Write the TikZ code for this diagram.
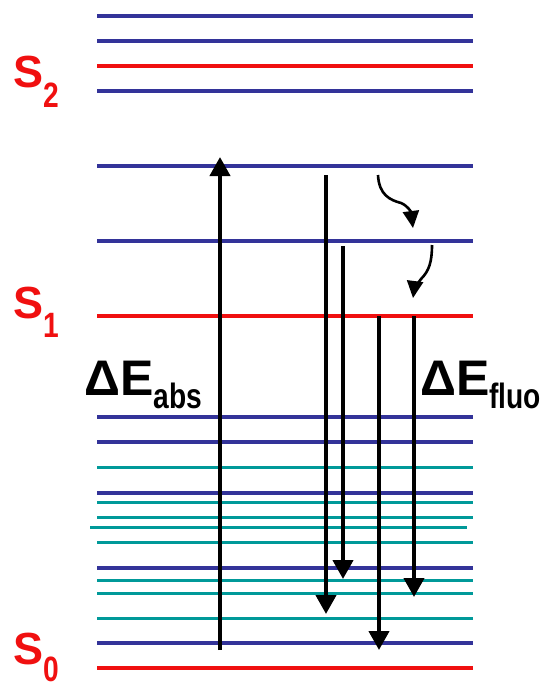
\documentclass[tikz,border=0pt]{standalone}
\usepackage{fontspec}
\setmainfont{Liberation Sans}
\usepackage{tikz}
\usetikzlibrary{arrows.meta,positioning}
\definecolor{elred}{RGB}{240,16,16}
\definecolor{vibblue}{RGB}{51,51,153}
\definecolor{rotteal}{RGB}{0,153,153}
\newcommand{\bigtxt}{\fontsize{45}{45}\selectfont\bfseries}
\newcommand{\deltxt}{\fontsize{50}{50}\selectfont\bfseries}
\newcommand{\subtxt}[2]{\raisebox{-#1}{\scalebox{0.88}[1.1]{\fontsize{32}{32}\selectfont\bfseries #2}}}
\begin{document}
\begin{tikzpicture}[x=1pt,y=-1pt,
          elec/.style={draw=elred,line width=4.6pt},
          vib/.style={draw=vibblue,line width=4pt},
          rot/.style={draw=rotteal,line width=3pt},
          trans/.style={draw=black,line width=4.2pt,
                        -{Triangle[width=20pt,length=19pt]}},
          relax/.style={draw=black,line width=2.6pt,
                        -{Triangle[width=16pt,length=17pt]}},
          lvl/.style={text=elred,anchor=base west,inner sep=0pt},
          nrg/.style={text=black,anchor=base west,inner sep=0pt}]
        \useasboundingbox (0,0) rectangle (544,689);
        % energy levels
        \foreach \y in {16,41,91,166,241,417,442,493,568,643}
          \draw[vib] (97,\y) -- (473,\y);
        \foreach \y in {467,502,517,542,580,593,618}
          \draw[rot] (97,\y) -- (473,\y);
        \draw[rot] (90,527) -- (467,527);
        \foreach \y in {66,316,668}
          \draw[elec] (97,\y) -- (473,\y);
        % state labels
        \node[lvl] (s2) at (13,87) {\bigtxt S\subtxt{20pt}{2}};
        \node[lvl] (s1) at (13,318) {\bigtxt S\subtxt{19pt}{1}};
        \node[lvl] (s0) at (13,664) {\bigtxt S\subtxt{17pt}{0}};
        \node[nrg] (eabs) at (84,395) {\deltxt ΔE\subtxt{13pt}{abs}};
        \node[nrg] (efluo) at (420,395) {\deltxt ΔE\subtxt{13pt}{fluo}};
        % absorption and emission
        \coordinate (absfrom) at (220,650);
        \coordinate (absto) at (220,157);
        \coordinate (ea) at (326,175);
        \coordinate (eaend) at (326,614);
        \coordinate (eb) at (343,246);
        \coordinate (ebend) at (343,579);
        \coordinate (fa) at (379,316);
        \coordinate (faend) at (379,650);
        \coordinate (fb) at (414,316);
        \coordinate (fbend) at (414,597);
        \draw[trans] (absfrom) -- (absto);
        \draw[trans] (ea) -- (eaend);
        \draw[trans] (eb) -- (ebend);
        \draw[trans] (fa) -- (faend);
        \draw[trans] (fb) -- (fbend);
        % relaxation
        \coordinate (ra) at (378,175);
        \coordinate (rabend) at (401,203);
        \coordinate (raend) at (413,228);
        \coordinate (rb) at (432,245);
        \coordinate (rbbend) at (421,279);
        \coordinate (rbend) at (413,298);
        \draw[relax] (ra) .. controls (379,195) and (390,200) .. (rabend)
          .. controls (408,206) and (411,212) .. (raend);
        \draw[relax] (rb) .. controls (432,262) and (429,271) .. (rbbend)
          .. controls (417,284) and (414,290) .. (rbend);
      \end{tikzpicture}
\end{document}
